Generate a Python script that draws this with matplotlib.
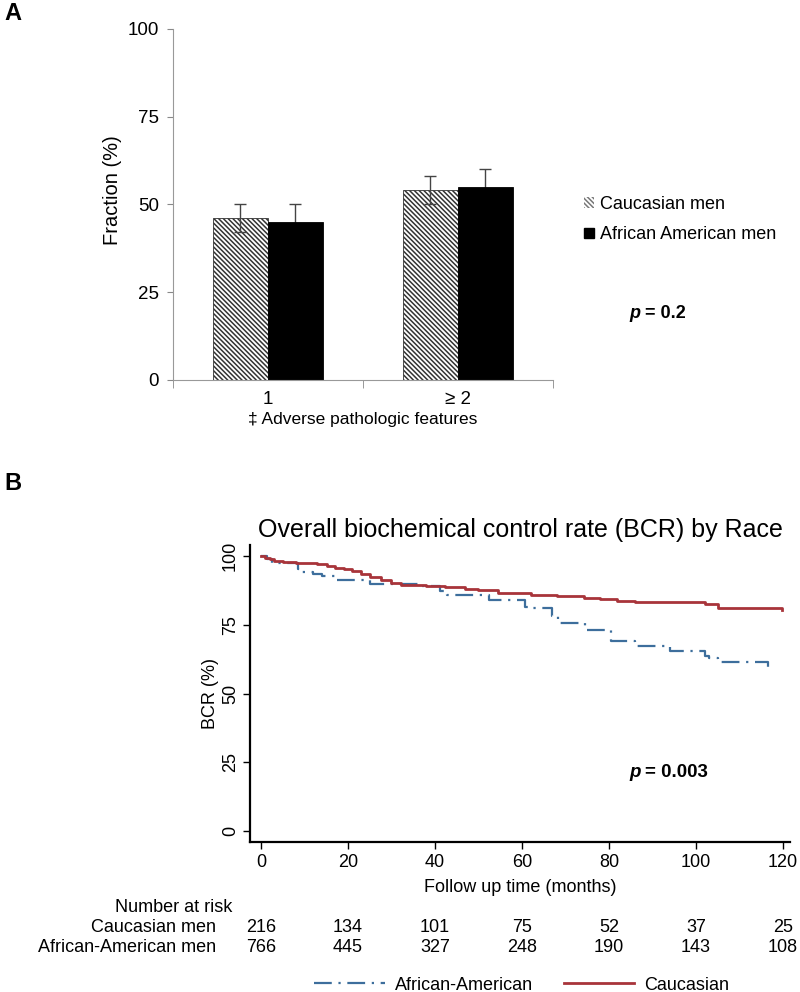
import numpy as np
import matplotlib.pyplot as plt
from matplotlib.patches import Patch
import matplotlib.transforms as mtransforms

plt.rcParams['font.family'] = ['Liberation Sans', 'DejaVu Sans']
plt.rcParams['hatch.linewidth'] = 1.1

# ---- panel A: fraction by number of adverse features
groups = ['1', '\u2265 2']
cauc_frac = [46, 54]
cauc_err = [4, 4]
afam_frac = [45, 55]
afam_err = [5, 5]

# ---- panel B: Kaplan-Meier steps (months, %)
cauc_t = [0, 1, 2, 3, 5, 8, 10.5, 13, 15.3, 17, 19, 21, 23, 25, 27.7, 30, 32.3, 38, 42.3,
          47, 50, 54.4, 62, 68, 74.2, 78, 81.9, 86, 102, 105, 119.8]
cauc_s = [100, 99.5, 99, 98.3, 97.8, 97.6, 97.5, 97.0, 96.4, 95.8, 95.2, 94.6, 93.4,
          92.4, 91.2, 90.4, 89.7, 89.3, 88.7, 87.9, 87.6, 86.7, 86.0, 85.6, 84.9,
          84.3, 83.7, 83.2, 82.5, 81.3, 80.6]
afam_t = [0, 1.5, 2.6, 8.6, 9.5, 12, 14, 17.4, 25, 37, 41.2, 42.7, 52.5, 60.7, 62, 66.8,
          68.3, 74.5, 80.5, 86, 94, 102, 103, 105, 116.5]
afam_s = [100, 99, 97.5, 95.5, 94.3, 93.6, 92.7, 91.5, 89.8, 89.0, 87.3, 85.9, 84.0,
          81.5, 81.2, 78.3, 75.8, 73.2, 69, 67.2, 65.6, 63.8, 63.0, 61.4, 59]

risk_times = [0, 20, 40, 60, 80, 100, 120]
risk_cauc = [216, 134, 101, 75, 52, 37, 25]
risk_afam = [766, 445, 327, 248, 190, 143, 108]

fig = plt.figure(figsize=(8, 9.92), dpi=100)

# ================= panel A
axA = fig.add_axes([0.216, 0.617, 0.475, 0.354])
x = np.array([0.5, 1.5])
w = 0.29
axA.errorbar(x + w/2, afam_frac, yerr=afam_err, fmt='none', ecolor='#444444',
             elinewidth=1, capsize=4, capthick=1, zorder=1)
axA.bar(x - w/2, cauc_frac, w, color='white', edgecolor='#333333',
        hatch='\\\\\\\\\\\\\\', linewidth=0.6, zorder=2)
axA.bar(x + w/2, afam_frac, w, color='black', edgecolor='black', linewidth=0.6, zorder=2)
axA.errorbar(x - w/2, cauc_frac, yerr=cauc_err, fmt='none', ecolor='#444444',
             elinewidth=1, capsize=4, capthick=1, zorder=3)

axA.set_xlim(0, 2)
axA.set_ylim(0, 100)
axA.set_yticks([0, 25, 50, 75, 100])
axA.set_xticks(x)
axA.set_xticklabels(groups)
axA.set_xticks([0, 1, 2], minor=True)
axA.tick_params(axis='x', which='major', length=0, labelsize=13.5, pad=8)
axA.tick_params(axis='x', which='minor', length=6, color='#888888')
axA.tick_params(axis='y', length=4, color='#888888', labelsize=13.5, pad=6)
for s in ['top', 'right']:
    axA.spines[s].set_visible(False)
for s in ['left', 'bottom']:
    axA.spines[s].set_color('#999999')
axA.set_ylabel('Fraction (%)', fontsize=14.5)
axA.yaxis.set_label_coords(-0.135, 0.54)
axA.set_xlabel('\u2021 Adverse pathologic features', fontsize=12.5, labelpad=3)

handlesA = [Patch(facecolor='white', edgecolor='#777777', hatch='\\\\\\\\\\\\\\', linewidth=0),
            Patch(facecolor='black', edgecolor='black')]
axA.legend(handlesA, ['Caucasian men', 'African American men'],
           loc='upper left', bbox_to_anchor=(0.71, 0.819),
           bbox_transform=fig.transFigure, frameon=False, fontsize=13,
           handlelength=0.55, handleheight=0.55, handletextpad=0.3, labelspacing=0.75)

fig.text(0.787, 0.684, 'p', fontsize=13, fontweight='bold', style='italic', ha='left', va='center')
fig.text(0.806, 0.684, '= 0.2', fontsize=13, fontweight='bold', ha='left', va='center')

fig.text(0.006, 0.986, 'A', fontsize=17, fontweight='bold', ha='left', va='center')
fig.text(0.006, 0.513, 'B', fontsize=17, fontweight='bold', ha='left', va='center')

# ================= panel B
axB = fig.add_axes([0.3125, 0.151, 0.675, 0.2994])
l_afam, = axB.step(afam_t, afam_s, where='post', color='#3d6e9c', lw=1.6,
                   linestyle=(0, (8, 3, 1, 3)))
l_cauc, = axB.step(cauc_t, cauc_s, where='post', color='#a8343a', lw=2)
axB.set_xlim(-2.5, 121.6)
axB.set_ylim(-4, 104)
axB.set_xticks(risk_times)
axB.set_yticks([0, 25, 50, 75, 100])
for lab in axB.get_yticklabels():
    lab.set_rotation(90)
    lab.set_va('center')
axB.tick_params(labelsize=13, length=5, width=1)
axB.tick_params(axis='y', pad=3)
for s in ['top', 'right']:
    axB.spines[s].set_visible(False)
for s in ['left', 'bottom']:
    axB.spines[s].set_linewidth(1.6)
axB.set_ylabel('BCR (%)', fontsize=13, labelpad=2)
axB.set_xlabel('Follow up time (months)', fontsize=13, labelpad=6)
axB.set_title('Overall biochemical control rate (BCR) by Race', fontsize=18, pad=6)

fig.text(0.787, 0.221, 'p', fontsize=13.5, fontweight='bold', style='italic', ha='left', va='center')
fig.text(0.806, 0.221, '= 0.003', fontsize=13.5, fontweight='bold', ha='left', va='center')

# number at risk table
trans = mtransforms.blended_transform_factory(axB.transData, fig.transFigure)
fig.text(0.144, 1 - 907/992, 'Number at risk', fontsize=13, ha='left', va='center')
fig.text(0.270, 1 - 927/992, 'Caucasian men', fontsize=13, ha='right', va='center')
fig.text(0.270, 1 - 948/992, 'African-American men', fontsize=13, ha='right', va='center')
for t, a, b in zip(risk_times, risk_cauc, risk_afam):
    fig.text(t, 1 - 927/992, str(a), transform=trans, fontsize=13, ha='center', va='center')
    fig.text(t, 1 - 948/992, str(b), transform=trans, fontsize=13, ha='center', va='center')

fig.legend([l_afam, l_cauc], ['African-American', 'Caucasian'], loc='center',
           bbox_to_anchor=(0.652, 1 - 985/992), ncol=2, frameon=False, fontsize=13,
           handlelength=3.9, handletextpad=0.55, columnspacing=1.7, borderpad=0)

fig.savefig('out.png', dpi=100)
